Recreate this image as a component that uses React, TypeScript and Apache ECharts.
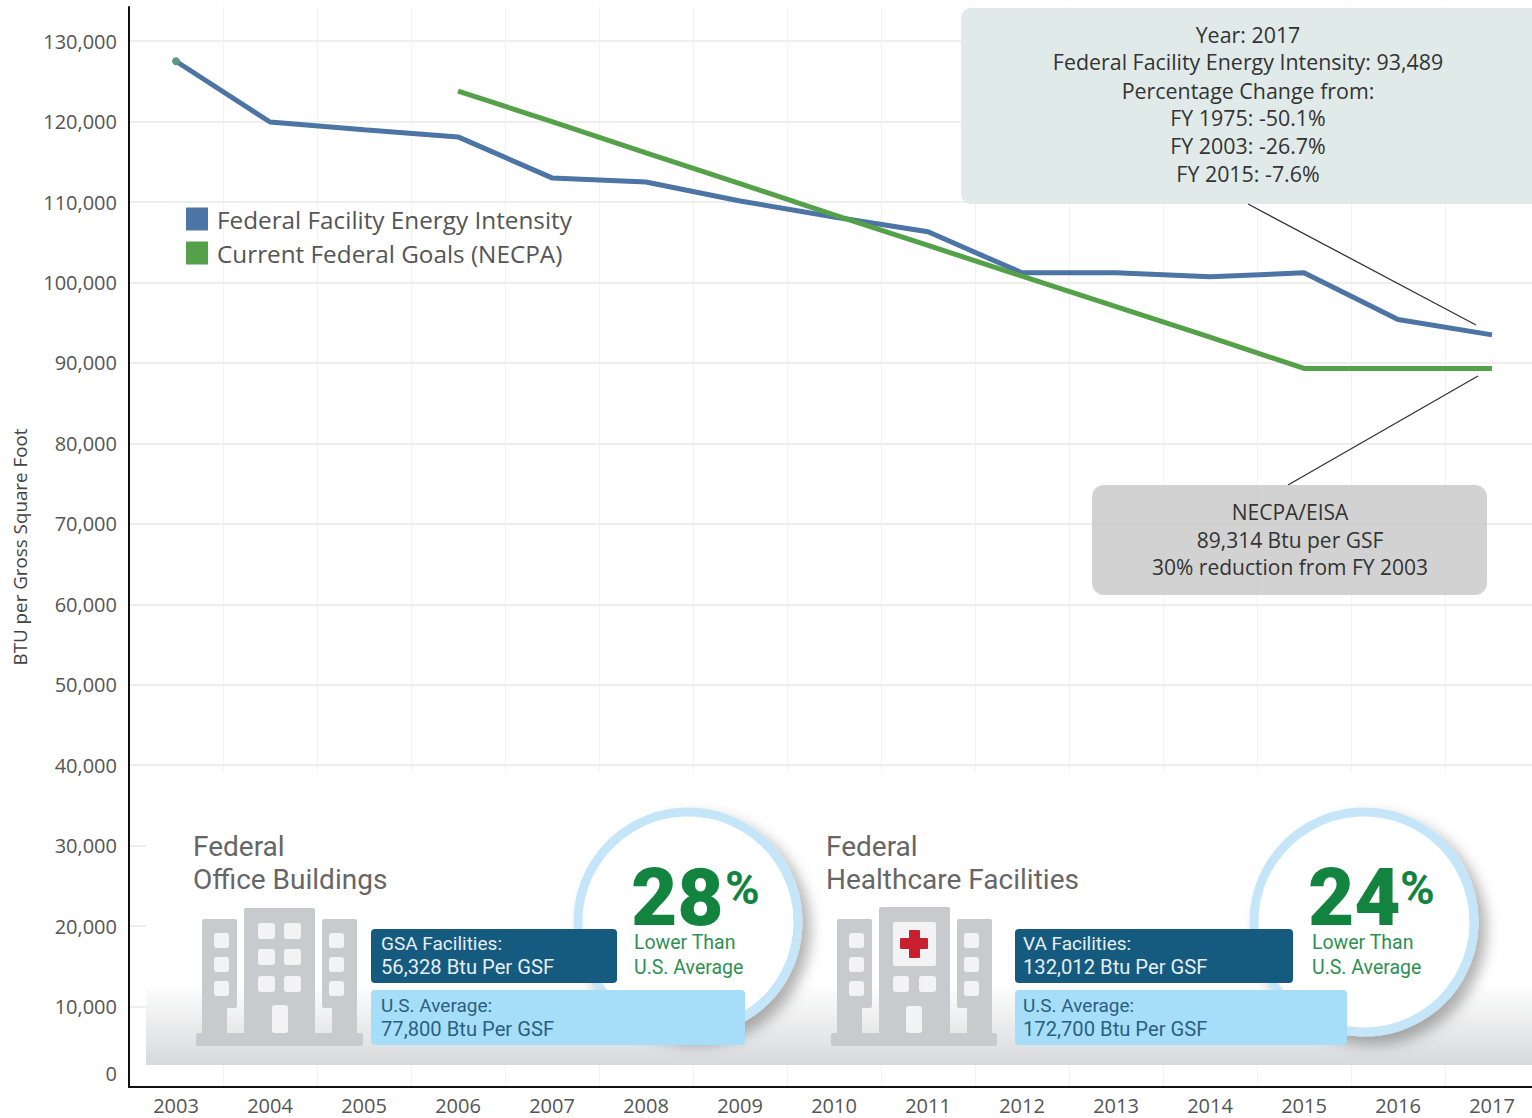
import React, { useEffect, useRef } from "react";
import * as echarts from "echarts";

const years = ["2003","2004","2005","2006","2007","2008","2009","2010","2011","2012","2013","2014","2015","2016","2017"];
const intensity = [127500,119950,119000,118100,113000,112500,110130,108150,106300,101200,101200,100700,101200,95400,93489];
const goals = [null,null,null,123800,120000,116100,112300,108400,104600,100800,97000,93200,89314,89314,89314];
const yInterval = 10000;
const yMax = 134245;
const tooltipLines = ["Year: 2017","Federal Facility Energy Intensity: 93,489","Percentage Change from:","FY 1975: -50.1%","FY 2003: -26.7%","FY 2015: -7.6%"];
const necpaLines = ["NECPA/EISA","89,314 Btu per GSF","30% reduction from FY 2003"];

const AXIS_FONT = "Open Sans";
const INFO_FONT = "Roboto";
const BUILD = "#c9cacd";
const WIN = "#f3f3f5";

const R = (x: number, y: number, w: number, h: number, fill: any, r: number = 0, extra: any = {}) => ({
  type: "rect", shape: { x, y, width: w, height: h, r }, style: { fill, ...extra },
});
const T = (text: string, x: number, y: number, fontSize: number, fill: string, extra: any = {}) => ({
  type: "text", x, y,
  style: { text, fontSize, fill, fontFamily: INFO_FONT, verticalAlign: "middle", align: "left", ...extra },
});

function wings(x1: number, x2: number, lowL: number, lowR: number, winL: number, winR: number) {
  const out: any[] = [];
  out.push(R(x1, 919, lowL, 89, BUILD, 2), R(x1, 1000, lowR, 34, BUILD));
  [933, 957, 981].forEach((y) => out.push(R(winL, y, 15, 15, WIN, 3)));
  out.push(R(x2, 919, lowL, 89, BUILD, 2));
  out.push(R(x2 + lowL - lowR, 1000, lowR, 34, BUILD));
  [933, 957, 981].forEach((y) => out.push(R(winR, y, 15, 15, WIN, 3)));
  return out;
}

function officeBuilding() {
  const out: any[] = [R(196, 1033, 167, 13, BUILD, 2), R(244, 908, 71, 126, BUILD, 2)];
  out.push(...wings(202, 322, 35, 25, 214, 329));
  [923, 949, 976].forEach((y) => {
    out.push(R(258, y, 17, 16, WIN, 3), R(284, y, 17, 16, WIN, 3));
  });
  out.push(R(272, 1005, 16, 28, WIN, 3));
  return out;
}

function hospital() {
  const out: any[] = [R(831, 1033, 166, 13, BUILD, 2), R(879, 907, 71, 127, BUILD, 2)];
  out.push(...wings(837, 957, 35, 25, 849, 964));
  out.push(R(893, 922, 43, 44, WIN, 2));
  out.push(R(909, 930, 11, 28, "#c8202e", 1), R(900, 938, 28, 11, "#c8202e", 1));
  out.push(R(893, 976, 16, 16, WIN, 3), R(919, 976, 17, 16, WIN, 3));
  out.push(R(906, 1006, 16, 27, WIN, 3));
  return out;
}

function badge(cx: number, num: string, numX: number, pctX: number, lowX: number) {
  return [
    {
      type: "circle", shape: { cx, cy: 922, r: 110 },
      style: { fill: "#fff", stroke: "#c5e6f8", lineWidth: 9, shadowBlur: 14, shadowOffsetX: 8, shadowOffsetY: 8, shadowColor: "rgba(0,0,0,0.3)" },
    },
    T(num, numX, 898, 80, "#13843f", { fontWeight: 900 }),
    T("%", pctX, 887, 47, "#13843f", { fontWeight: "bold" }),
    T("Lower Than", lowX, 942, 19.5, "#2e9054"),
    T("U.S. Average", lowX, 967, 19.5, "#2e9054"),
  ];
}

function infoBox(x: number, darkW: number, lightW: number, textX: number, l1: string, l2: string, l3: string, l4: string) {
  return [
    R(x, 929, darkW, 54, "#155a7f", 4),
    T(l1, textX, 943, 19, "#e6eff5"),
    T(l2, textX, 967, 20.2, "#e6eff5"),
    R(x, 990, lightW, 55, "#a6defa", 4),
    T(l3, textX, 1005, 19, "#2a5f80"),
    T(l4, textX, 1029, 20.2, "#2a5f80"),
  ];
}

export default function App() {
  const ref = useRef<HTMLDivElement>(null);
  useEffect(() => {
    const chart = echarts.init(ref.current!, null, { renderer: "svg" });
    const children: any[] = [
      R(146, 772, 1400, 212, "#fff"),
      R(146, 983, 1400, 82, new echarts.graphic.LinearGradient(0, 0, 0, 1, [
        { offset: 0, color: "#ffffff" },
        { offset: 1, color: "#d8d9db" },
      ])),
      T("Federal", 193, 846, 28, "#666"),
      T("Office Buildings", 193, 879, 28, "#666"),
      T("Federal", 826, 846, 28, "#666"),
      T("Healthcare Facilities", 826, 879, 28, "#666"),
      ...officeBuilding(),
      ...hospital(),
      ...badge(688, "28", 631, 725, 634),
      ...badge(1364, "24", 1308, 1400, 1312),
      ...infoBox(371, 246, 374, 381, "GSA Facilities:", "56,328 Btu Per GSF", "U.S. Average:", "77,800 Btu Per GSF"),
      ...infoBox(1015, 278, 332, 1023, "VA Facilities:", "132,012 Btu Per GSF", "U.S. Average:", "172,700 Btu Per GSF"),
      R(961, 8, 600, 196, "#e0eae8", 10),
      ...tooltipLines.map((t, i) =>
        T(t, 1248, [34.5, 61.5, 90.5, 117.5, 145.5, 173.5][i], 21.4, "#333", { align: "center", fontFamily: AXIS_FONT })),
      { type: "line", shape: { x1: 1248, y1: 204, x2: 1476, y2: 325 }, style: { stroke: "#333", lineWidth: 1.3 } },
      { type: "line", shape: { x1: 1288, y1: 485, x2: 1478, y2: 376 }, style: { stroke: "#333", lineWidth: 1.3 } },
      R(1092, 485, 395, 110, "rgba(200,200,200,0.82)", 12),
      ...necpaLines.map((t, i) =>
        T(t, 1290, [511.5, 539.5, 567][i], 21, "#333", { align: "center", fontFamily: AXIS_FONT })),
    ];
    chart.setOption({
      animation: false,
      grid: { left: 129, top: 7, width: 1410, height: 1080, containLabel: false, outerBoundsMode: "none" },
      legend: {
        left: 181, top: 202, orient: "vertical", itemWidth: 22, itemHeight: 23, itemGap: 10, icon: "rect",
        textStyle: { fontFamily: AXIS_FONT, fontSize: 24.3, color: "#555", padding: [0, 0, 2, 4] },
        data: [
          { name: "Federal Facility Energy Intensity", itemStyle: { color: "#4c74a5" } },
          { name: "Current Federal Goals (NECPA)", itemStyle: { color: "#55a14a" } },
        ],
      },
      xAxis: {
        type: "category", data: years, boundaryGap: true,
        axisLine: { show: true, lineStyle: { color: "#111", width: 2 } },
        axisTick: { show: false },
        axisLabel: { interval: 0, margin: 8, fontFamily: AXIS_FONT, fontSize: 20, lineHeight: 21, color: "#555" },
        splitLine: { show: true, interval: 0, lineStyle: { color: "#f2f2f2", width: 1 } },
      },
      yAxis: {
        type: "value", min: 0, max: yMax, interval: yInterval,
        name: "BTU per Gross Square Foot", nameLocation: "middle", nameGap: 100,
        nameTextStyle: { fontFamily: AXIS_FONT, fontSize: 18.8, color: "#444" },
        axisLine: { show: true, lineStyle: { color: "#111", width: 2 } },
        axisTick: { show: false },
        axisLabel: {
          margin: 12, fontFamily: AXIS_FONT, fontSize: 20, color: "#555", showMaxLabel: false,
          formatter: (v: number) => (v === 0 ? "{z|0}" : v.toLocaleString("en-US")),
          rich: { z: { fontFamily: AXIS_FONT, fontSize: 20, color: "#555", padding: [0, 0, 28, 0] } },
        },
        splitLine: { show: true, showMaxLine: false, lineStyle: { color: "#e8e8e8", width: 1.5 } },
      },
      graphic: [{ type: "group", z: 10, children: children.map((c) => ({ ...c, z: 10 })) }],
      series: [
        {
          name: "Federal Facility Energy Intensity", type: "line", data: intensity,
          color: "#4c74a5", lineStyle: { color: "#4c74a5", width: 5 },
          showSymbol: true, showAllSymbol: true,
          symbol: (_v: any, p: any) => (p.dataIndex === 0 ? "circle" : "none"), symbolSize: 8,
          itemStyle: { color: "#5b9a7e" }, z: 3,
        },
        {
          name: "Current Federal Goals (NECPA)", type: "line", data: goals,
          color: "#55a14a", lineStyle: { color: "#55a14a", width: 5 }, symbol: "none", z: 4,
        },
      ],
    });
    return () => chart.dispose();
  }, []);
  return <div ref={ref} style={{ position: "fixed", left: 0, top: 0, width: 1532, height: 1118, background: "#fff" }} />;
}
